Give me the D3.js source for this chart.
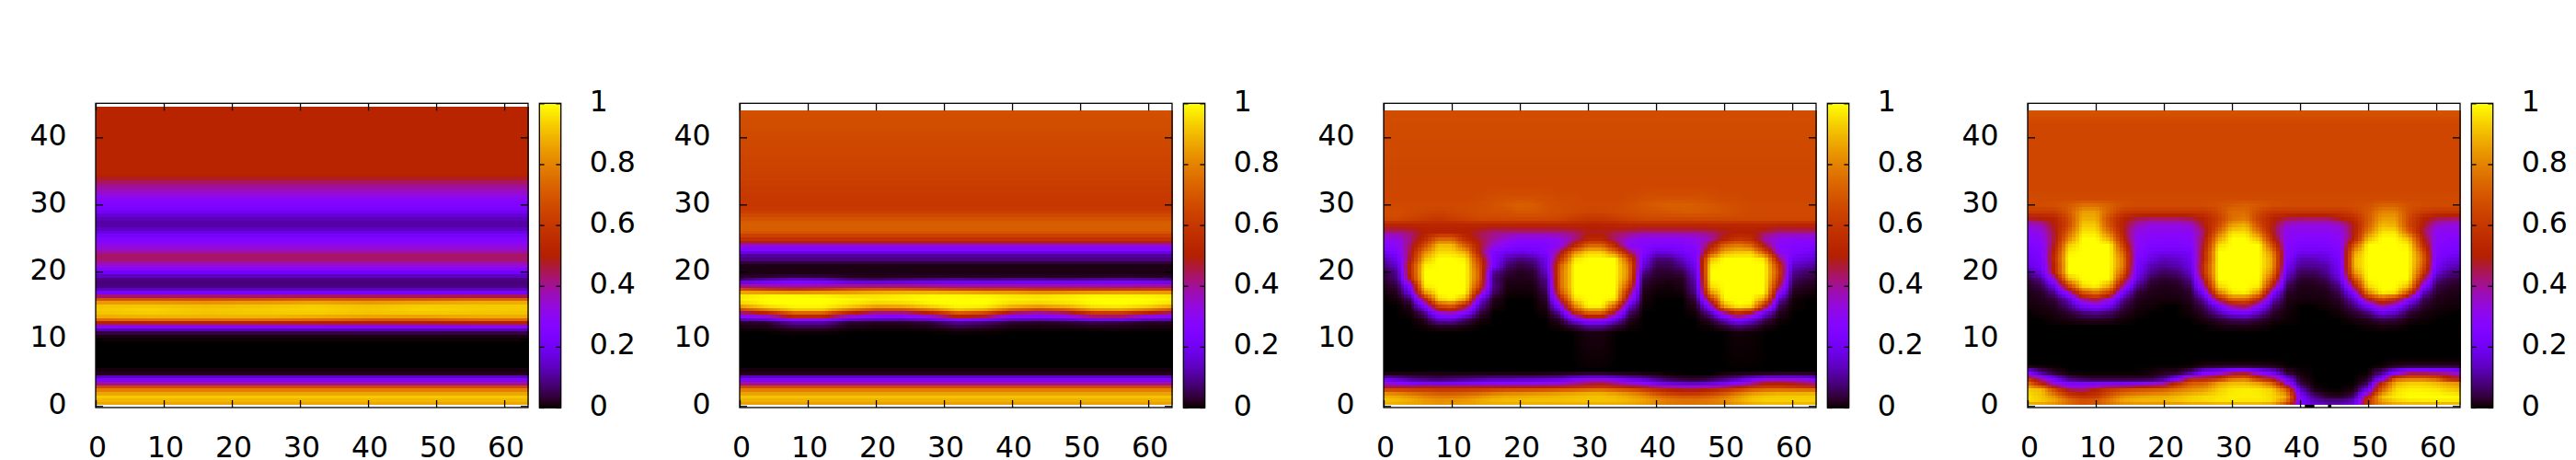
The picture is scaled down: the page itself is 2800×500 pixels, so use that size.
<!DOCTYPE html>
<html>
<head>
<meta charset="utf-8">
<script src="https://cdn.jsdelivr.net/npm/d3@7"></script>
<style>
html, body { margin: 0; background: #fff; }
svg { display: block; }
text { font-family: "DejaVu Sans", sans-serif; font-size: 31.5px; fill: #000; }
</style>
</head>
<body>
<div id="chart"></div>
<script>
"use strict";

const xTicks = [0, 10, 20, 30, 40, 50, 60];
const yTicks = [0, 10, 20, 30, 40];
const cbTicks = [0, 0.2, 0.4, 0.6, 0.8, 1];

const colsWide = [0, 8, 16, 24, 32, 40, 48, 56, 64];
const colsMid = [0, 4, 8, 12, 16, 20, 24, 28, 32, 36, 40, 44, 48, 52, 56, 60, 64];
const colsFine = [0, 2, 4, 6, 8, 10, 12, 14, 16, 18, 20, 22, 24, 26, 28, 30, 32, 34, 36, 38, 40, 42, 44, 46, 48, 50, 52, 54, 56, 58, 60, 62, 64];

// values in percent of the colour range, a row of one value is flat across x
const rows1 = [0.2, 0.7, 1.2, 1.7, 2.2, 2.7, 3.2, 3.7, 4.2, 4.7, 5.2, 5.7, 9.7, 10.2, 10.7, 11.2, 11.7, 12.2, 12.7, 13.2, 13.7, 14.2, 14.7, 15.2, 15.7, 16.2, 16.7, 17.2, 17.7, 18.2, 18.7, 19.2, 19.7, 20.2, 20.7, 21.2, 21.7, 22.2, 22.7, 23.2, 23.7, 24.2, 24.7, 25.2, 25.7, 26.2, 26.7, 27.2, 27.7, 28.2, 28.7, 29.2, 29.7, 30.2, 30.7, 31.2, 31.7, 32.2, 32.7, 33.2, 33.7, 34.2, 34.7, 35.2, 44.6];
const values1 = [
  [86], [87], [93], [92], [80], [78], [52], [25], [23], [2], [1.5], [0], [0], [1], [1.5], [8], [18], [38],
  [66, 68, 68, 68, 66, 62, 62, 66, 66],
  [85, 87, 87, 87, 85, 82, 82, 85, 85],
  [91, 92, 91, 92, 92, 91, 91, 91, 91],
  [92, 94, 92, 93, 94, 92, 94, 93, 92],
  [93, 94, 92, 93, 94, 92, 94, 93, 93],
  [90, 90, 89, 90, 92, 90, 92, 92, 92],
  [78, 78, 76, 78, 80, 78, 80, 83, 83],
  [58, 58, 58, 58, 60, 60, 60, 62, 62],
  [25], [18], [9], [8], [8], [10], [18], [25], [30], [37], [42], [44], [43], [37], [33], [30], [27], [24], [20], [15], [12], [11], [12], [14], [18], [22], [25], [26], [28], [31], [34], [37], [40], [42], [46], [50], [52], [52], [52]
];

const rows2 = [0.2, 0.7, 1.2, 1.7, 2.2, 2.7, 3.2, 3.7, 4.2, 4.7, 5.2, 5.7, 10.7, 11.2, 11.7, 12.2, 12.7, 13.2, 13.7, 14.2, 14.7, 15.2, 15.7, 16.2, 16.7, 17.2, 17.7, 18.2, 18.7, 19.2, 19.7, 21.2, 21.7, 22.2, 22.7, 23.2, 23.7, 24.2, 24.7, 25.2, 25.7, 26.2, 26.7, 27.2, 27.7, 28.2, 28.7, 29.2, 30, 32, 34, 36, 40, 44];
const values2 = [
  [85], [86], [92], [91], [80], [78], [52], [25], [23], [2], [1.5], [0], [0],
  [0, 0, 0.6, 0.6, 0, 0, 0, 0, 0.4, 0.3, 0, 0, 0, 0, 0, 0, 0],
  [0.5, 1, 3, 3, 1, 0.5, 0.5, 1, 3, 2, 0.5, 0.5, 0.5, 1, 1, 0.5, 0.5],
  [1.5, 2, 8, 8, 2, 1.5, 1.5, 2.5, 7, 5, 2, 1.5, 2, 3, 2.5, 1.5, 1.5],
  [3, 4, 14, 14, 4, 3, 3, 5, 12, 9, 4, 3, 4, 6, 5, 3, 3],
  [25, 30, 46, 46, 30, 25, 25, 30, 44, 40, 26, 25, 28, 38, 38, 28, 25],
  [30, 40, 62, 62, 42, 30, 30, 40, 60, 55, 32, 28, 34, 50, 50, 38, 30],
  [55, 70, 88, 88, 68, 55, 55, 66, 86, 80, 60, 52, 58, 76, 78, 68, 55],
  [78, 92, 98, 98, 90, 80, 82, 90, 98, 96, 84, 78, 84, 94, 95, 90, 80],
  [92, 99, 100, 100, 97, 92, 93, 98, 100, 100, 94, 92, 95, 99, 100, 98, 94],
  [97, 100, 100, 100, 99, 97, 98, 100, 100, 100, 98, 97, 98, 100, 100, 100, 98],
  [98, 100, 100, 100, 99, 98, 99, 100, 100, 100, 98, 97, 98, 100, 100, 100, 98],
  [95, 98, 98, 97, 93, 94, 96, 98, 98, 97, 95, 94, 96, 97, 97, 96, 95],
  [76, 70, 66, 70, 76, 80, 80, 78, 75, 72, 72, 68, 68, 70, 72, 72, 72],
  [55, 48, 45, 48, 55, 56, 56, 54, 50, 50, 50, 48, 48, 48, 48, 50, 52],
  [26, 28, 30, 28, 25, 25, 25, 25, 26, 26, 26, 28, 28, 28, 28, 28, 26],
  [8, 15, 20, 18, 10, 8, 10, 12, 14, 12, 14, 14, 12, 14, 15, 14, 12],
  [3, 4, 6, 5, 3, 2, 3, 3, 3, 3, 3, 3, 3, 3, 4, 3, 3],
  [1.2], [1.2], [7], [10], [11], [25], [26], [42], [55], [60], [67], [72], [72], [72], [70], [67], [64], [61], [60], [61], [63], [64], [66], [68]
];

const rows3 = [0.2, 1.15, 2.15, 2.9, 3.65, 4.7, 5.4, 11, 12, 13, 14, 15, 16, 17, 18, 19, 20, 21, 22, 23, 24, 25, 26, 27, 28, 29, 30, 31, 33, 44];
const values3 = [
  [88, 87, 86, 85, 83, 84, 85, 86, 87, 87, 87, 87, 87, 87, 87, 87, 87, 87, 86, 84, 80, 77, 76, 76, 77, 79, 83, 86, 88, 88, 88, 88, 88],
  [92, 91, 88, 84, 82, 82, 84, 87, 90, 91, 91, 92, 92, 92, 93, 93, 93, 92, 90, 87, 82, 78, 76, 76, 78, 82, 88, 93, 95, 95, 95, 95, 95],
  [80, 77, 74, 71, 68, 68, 70, 72, 76, 79, 80, 81, 82, 84, 85, 87, 87, 84, 80, 74, 65, 58, 55, 55, 60, 66, 75, 82, 85, 87, 87, 87, 88],
  [47, 48, 48, 50, 50, 50, 50, 50, 50, 50, 50, 50, 52, 54, 56, 58, 60, 56, 52, 48, 44, 40, 38, 38, 40, 44, 50, 58, 62, 62, 60, 58, 55],
  [30, 22, 15, 12, 10, 12, 14, 17, 19, 20, 21, 22, 23, 25, 34, 40, 42, 36, 28, 23, 14, 8, 6, 5, 8, 13, 20, 32, 44, 46, 44, 40, 32],
  [1.5, 1.5, 1.5, 1.5, 1.5, 1.5, 1.5, 1.5, 1.5, 1.5, 1.5, 1.5, 2, 2.5, 3.5, 4, 4, 3, 2.5, 1.5, 1, 0.3, 0, 0, 0, 1, 2, 2.5, 3, 3.5, 3.5, 3.5, 3.5],
  [0],
  [0, 0, 0, 0, 0, 0, 0, 0, 0, 0, 0, 0, 0, 0, 0, 1, 1, 0, 0, 0, 0, 0, 0, 0, 0, 0, 0.5, 0.3, 0, 0, 0, 0, 0],
  [0, 0, 0, 0.3, 2, 2, 1, 0, 0, 0, 0, 0, 0, 0.5, 4, 10, 10, 4, 0.5, 0, 0, 0, 0, 0, 0.3, 3, 8, 5, 1, 0, 0, 0, 0],
  [0, 0, 0, 2, 15, 16, 7, 1, 0, 0, 0, 0, 0, 3, 22, 35, 35, 20, 2, 0, 0, 0, 0, 0, 3, 15, 30, 20, 6, 0.5, 0, 0, 0],
  [0, 0, 0.5, 8, 35, 40, 28, 5, 0, 0, 0, 0, 0.5, 12, 55, 75, 75, 45, 8, 0, 0, 0, 0, 0.5, 12, 42, 60, 50, 20, 2, 0, 0, 0],
  [0, 0, 2, 25, 65, 72, 50, 12, 1, 0, 0, 0, 1.5, 30, 80, 100, 100, 72, 18, 0.3, 0, 0, 0, 2, 30, 88, 100, 97, 55, 6, 0.3, 0, 0],
  [0, 0.5, 7, 50, 95, 100, 88, 22, 2, 0, 0, 0, 3, 50, 96, 100, 100, 98, 38, 1, 0, 0, 0, 5, 58, 100, 100, 100, 86, 15, 0.5, 0, 0],
  [0.5, 2, 20, 85, 100, 100, 100, 48, 7, 0.5, 0.3, 0.5, 5, 68, 100, 100, 100, 100, 52, 1.5, 0.3, 0.2, 0.5, 10, 85, 100, 100, 100, 100, 32, 2, 0.8, 0.5],
  [1.5, 4, 30, 98, 100, 100, 100, 65, 10, 1, 1, 1, 8, 75, 100, 100, 100, 100, 68, 3, 0.8, 0.5, 1.5, 12, 96, 100, 100, 100, 100, 50, 4, 2, 1.5],
  [3, 8, 55, 100, 100, 100, 100, 72, 8, 2, 1.5, 2, 10, 75, 100, 100, 100, 100, 78, 5, 2, 1.5, 2, 15, 100, 100, 100, 100, 100, 60, 7, 4, 3],
  [4, 10, 58, 100, 100, 100, 100, 72, 12, 4, 2, 3, 15, 75, 100, 100, 100, 100, 80, 10, 3, 3, 5, 18, 100, 100, 100, 100, 100, 65, 10, 7, 6],
  [8, 15, 58, 98, 100, 100, 100, 68, 25, 8, 4, 6, 18, 72, 100, 100, 100, 100, 78, 18, 5, 5, 10, 22, 98, 100, 100, 100, 100, 60, 15, 12, 10],
  [12, 20, 50, 90, 100, 100, 98, 62, 25, 12, 8, 10, 20, 58, 96, 100, 100, 100, 68, 22, 8, 8, 15, 25, 90, 100, 100, 100, 96, 45, 20, 17, 15],
  [20, 25, 48, 80, 95, 95, 88, 50, 25, 20, 18, 20, 25, 45, 80, 93, 93, 76, 46, 27, 17, 18, 22, 25, 62, 88, 92, 92, 68, 30, 25, 22, 20],
  [26, 30, 44, 65, 90, 90, 70, 50, 35, 28, 25, 25, 26, 30, 52, 72, 72, 52, 28, 27, 25, 25, 26, 30, 48, 72, 78, 72, 46, 28, 27, 26, 25],
  [32, 32, 42, 54, 72, 72, 55, 46, 40, 34, 30, 30, 30, 33, 40, 52, 52, 42, 35, 30, 30, 30, 30, 32, 38, 50, 58, 55, 38, 32, 30, 30, 30],
  [42, 42, 44, 50, 50, 50, 50, 46, 42, 42, 42, 42, 42, 42, 44, 48, 48, 46, 44, 42, 42, 42, 42, 42, 44, 47, 50, 50, 46, 42, 42, 42, 42],
  [53, 53, 53, 53, 53, 53, 53, 53, 53, 53, 53, 53, 53, 53, 53, 52, 52, 53, 54, 54, 54, 54, 54, 54, 54, 54, 54, 54, 54, 53, 53, 53, 53],
  [66, 66, 64, 62, 60, 62, 64, 66, 66, 66, 66, 66, 66, 65, 62, 60, 60, 62, 64, 66, 66, 66, 66, 66, 66, 66, 66, 66, 66, 66, 66, 66, 66],
  [67, 67, 66, 65, 64, 65, 66, 67, 68, 68, 70, 70, 68, 67, 66, 65, 65, 66, 67, 68, 69, 70, 71, 71, 70, 69, 67, 66, 66, 66, 66, 66, 66],
  [66, 66, 66, 66, 66, 66, 66, 67, 68, 70, 72, 71, 68, 67, 66, 66, 66, 66, 67, 69, 71, 72, 72, 71, 70, 68, 67, 66, 66, 66, 66, 66, 66],
  [65, 65, 65, 65, 65, 65, 65, 66, 67, 68, 68, 68, 67, 66, 66, 65, 65, 65, 66, 67, 68, 68, 68, 68, 67, 66, 66, 65, 65, 65, 65, 65, 65],
  [65], [67]
];

const rows4 = [0.2, 0.75, 1.5, 2.5, 3.5, 4, 5, 6, 7, 11, 12, 13, 14, 15, 16, 17, 18, 19, 20, 21, 22, 23, 24, 25, 26, 27, 28, 29, 30, 31, 33, 42, 44];
const values4 = [
  [82, 82, 80, 72, 66, 68, 74, 78, 80, 80, 80, 80, 82, 82, 84, 84, 84, 84, 82, 60, 25, 16, 12, 12, 16, 60, 80, 84, 84, 84, 84, 84, 84],
  [96, 93, 88, 78, 70, 72, 80, 88, 90, 90, 90, 92, 94, 95, 97, 97, 97, 97, 95, 78, 25, 14, 10, 10, 16, 62, 85, 93, 96, 97, 97, 97, 97],
  [96, 92, 82, 65, 58, 60, 72, 82, 85, 87, 88, 90, 93, 95, 96, 98, 98, 98, 95, 88, 25, 8, 2, 1.5, 6, 50, 92, 98, 100, 100, 100, 100, 99],
  [93, 90, 65, 45, 42, 50, 60, 65, 68, 70, 72, 78, 82, 85, 93, 97, 98, 97, 93, 72, 14, 1, 0, 0, 1, 20, 72, 95, 98, 98, 97, 93, 90],
  [75, 50, 30, 22, 22, 22, 22, 20, 22, 28, 35, 55, 70, 72, 85, 90, 90, 85, 72, 32, 4, 0, 0, 0, 0, 5, 55, 88, 93, 93, 90, 85, 82],
  [60, 40, 22, 8, 4, 3, 3, 3, 3, 3, 8, 25, 55, 55, 62, 78, 80, 62, 50, 22, 2, 0, 0, 0, 0, 2, 25, 75, 80, 80, 75, 55, 50],
  [25, 8, 2, 0, 0, 0, 0, 0, 0, 0.5, 2, 2, 8, 25, 30, 42, 45, 30, 20, 3, 0.5, 0, 0, 0, 0, 0, 8, 25, 42, 42, 40, 38, 30],
  [0, 0, 0, 0, 0, 0, 0, 0, 0, 0, 0, 0, 0, 1, 1.2, 1.2, 1.2, 1.2, 1, 0, 0, 0, 0, 0, 0, 0, 0, 1.5, 2, 2, 2, 2, 2],
  [0], [0],
  [0, 0, 0, 0, 0, 0, 0, 0, 0, 0, 0, 0, 0, 0, 0.7, 1.2, 1.2, 0.7, 0, 0, 0, 0, 0, 0, 0, 0.3, 0.8, 0.6, 0, 0, 0, 0, 0],
  [0, 0, 0.5, 1, 2, 2.5, 2, 0.5, 0, 0, 0, 0, 0, 1, 3, 6, 7, 4, 1, 0.3, 0, 0, 0, 0, 0.8, 2, 5, 4, 1, 0.3, 0, 0, 0],
  [0, 0.5, 1, 3, 8, 10, 7, 2, 0.5, 0, 0, 0, 0.5, 3, 12, 22, 24, 14, 3, 0.5, 0, 0, 0, 0.5, 3, 8, 20, 15, 4, 1, 0.3, 0, 0],
  [0.5, 1, 2, 8, 22, 28, 20, 5, 1, 0.5, 0, 0, 1, 6, 22, 42, 48, 30, 7, 1, 0, 0, 0.5, 1.5, 8, 22, 40, 30, 12, 3, 1, 0.5, 0.5],
  [1.2, 1.5, 4, 14, 42, 50, 35, 10, 2, 1, 0.8, 0.8, 2, 12, 50, 75, 75, 55, 15, 1.5, 0.8, 0.8, 1, 3, 15, 50, 68, 58, 30, 6, 1.5, 1, 1],
  [1.5, 2.5, 10, 35, 70, 80, 65, 22, 4, 1.5, 1.2, 1.5, 3, 25, 80, 98, 100, 85, 28, 3, 1.2, 1.2, 1.5, 6, 28, 82, 100, 98, 68, 15, 3, 1.5, 1.5],
  [2, 5, 20, 65, 96, 100, 88, 40, 10, 2.5, 1.5, 2, 6, 40, 95, 100, 100, 98, 52, 6, 1.5, 1.5, 3, 10, 50, 96, 100, 100, 92, 32, 5, 2.5, 2],
  [4, 10, 38, 90, 100, 100, 100, 58, 18, 5, 3, 4, 10, 52, 100, 100, 100, 100, 68, 12, 3, 3, 6, 18, 68, 100, 100, 100, 100, 50, 10, 5, 4],
  [10, 18, 55, 100, 100, 100, 100, 72, 22, 10, 6, 8, 15, 60, 100, 100, 100, 100, 80, 18, 6, 6, 10, 22, 85, 100, 100, 100, 100, 65, 18, 9, 8],
  [18, 22, 55, 100, 100, 100, 100, 78, 24, 13, 10, 12, 18, 60, 100, 100, 100, 100, 85, 22, 10, 10, 12, 23, 90, 100, 100, 100, 100, 72, 22, 14, 13],
  [20, 23, 58, 100, 100, 100, 100, 78, 26, 18, 13, 15, 20, 55, 100, 100, 100, 100, 85, 26, 13, 13, 17, 24, 90, 100, 100, 100, 100, 75, 24, 18, 17],
  [22, 25, 55, 98, 100, 100, 100, 72, 28, 22, 20, 20, 22, 55, 100, 100, 100, 100, 80, 28, 20, 20, 20, 26, 85, 100, 100, 100, 100, 70, 26, 23, 22],
  [25, 27, 50, 92, 100, 100, 100, 62, 30, 25, 25, 25, 26, 50, 95, 100, 100, 100, 66, 28, 24, 24, 25, 28, 70, 100, 100, 100, 98, 58, 28, 25, 25],
  [27, 30, 48, 80, 100, 100, 88, 54, 30, 28, 27, 27, 28, 48, 85, 100, 100, 90, 54, 30, 27, 27, 27, 30, 52, 90, 100, 100, 90, 52, 30, 27, 27],
  [30, 33, 48, 72, 96, 96, 76, 50, 32, 30, 30, 30, 30, 44, 74, 95, 95, 76, 48, 30, 30, 30, 30, 32, 50, 78, 96, 96, 72, 46, 30, 30, 30],
  [33, 38, 50, 65, 92, 92, 68, 50, 38, 33, 33, 33, 35, 50, 65, 85, 88, 66, 50, 35, 33, 33, 33, 36, 50, 72, 90, 88, 65, 50, 36, 33, 33],
  [48, 50, 52, 66, 88, 88, 66, 52, 46, 44, 44, 44, 46, 52, 62, 75, 78, 62, 52, 46, 44, 44, 44, 50, 56, 70, 85, 85, 66, 52, 46, 44, 44],
  [62, 62, 62, 70, 85, 85, 72, 62, 60, 60, 60, 60, 60, 60, 66, 75, 75, 66, 60, 60, 60, 60, 60, 60, 64, 70, 80, 80, 68, 62, 60, 60, 60],
  [67, 67, 68, 70, 75, 75, 72, 68, 67, 67, 67, 67, 67, 67, 68, 70, 72, 70, 68, 67, 67, 67, 67, 67, 67, 68, 72, 72, 68, 67, 67, 67, 67],
  [66], [65], [65], [69]
];

// short dark stretches under the last panel
const gaps4 = [[40.7, 42.1], [44.1, 44.6]];

const panels = [
  { cols: colsWide, rows: rows1, values: values1, top: 44.56, gaps: [] },
  { cols: colsMid, rows: rows2, values: values2, top: 44, gaps: [] },
  { cols: colsFine, rows: rows3, values: values3, top: 44, gaps: [] },
  { cols: colsFine, rows: rows4, values: values4, top: 44, gaps: gaps4 }
];

const panelStep = 700;
const plot = { left: 104, right: 574, top: 112.3, bottom: 443 };
const bar = { left: 586.3, right: 609.7 };
const cell = 0.5;
const bottomEdge = 0.18;

const x = d3.scaleLinear().domain([0, 63.5]).range([plot.left, plot.right]);
const y = d3.scaleLinear().domain([-0.233, 45.07]).range([plot.bottom, plot.top]);
const cb = d3.scaleLinear().domain([0, 1]).range([plot.bottom, plot.top]);

// gnuplot's default pm3d palette, rgbformulae 7,5,15
function palette(v) {
  const t = Math.max(0, Math.min(1, v));
  return d3.rgb(255 * Math.sqrt(t), 255 * t * t * t, 255 * Math.max(0, Math.sin(2 * Math.PI * t))) + "";
}

function lerpIndex(list, v) {
  const i = Math.max(0, Math.min(list.length - 2, d3.bisectRight(list, v) - 1));
  const t = Math.max(0, Math.min(1, (v - list[i]) / (list[i + 1] - list[i])));
  return [i, t];
}

function rowValue(row, cols, xv) {
  if (row.length === 1) return row[0];
  const [i, t] = lerpIndex(cols, xv);
  return row[i] + (row[i + 1] - row[i]) * t;
}

// same smoothing as pm3d interpolate: half unit blocks between the read values
function blocks(p) {
  const out = [];
  for (let yv = bottomEdge; yv < p.top - 0.01; yv += cell) {
    const y1 = Math.min(yv + cell, p.top);
    const [j, tj] = lerpIndex(p.rows, (yv + y1) / 2);
    for (let xv = 0; xv < 63.5; xv += cell) {
      const a = rowValue(p.values[j], p.cols, xv + cell / 2);
      const b = rowValue(p.values[j + 1], p.cols, xv + cell / 2);
      out.push({ x0: xv, x1: xv + cell, y0: yv, y1: y1, v: (a + (b - a) * tj) / 100 });
    }
  }
  return out;
}

const svg = d3.select("#chart").append("svg").attr("width", 2800).attr("height", 500);

function styleAxis(g) {
  g.selectAll("line").attr("stroke", "#000").attr("stroke-width", 1.3);
  g.select(".domain").remove();
}

panels.forEach((p, n) => {
  const g = svg.append("g").attr("transform", `translate(${n * panelStep},0)`);

  g.append("g").selectAll("rect").data(blocks(p)).join("rect")
    .attr("x", d => x(d.x0))
    .attr("y", d => y(d.y1))
    .attr("width", d => x(d.x1) - x(d.x0) + 0.5)
    .attr("height", d => y(d.y0) - y(d.y1) + 0.5)
    .attr("fill", d => palette(d.v))
    .attr("shape-rendering", "crispEdges");

  g.append("g").selectAll("rect").data(p.gaps).join("rect")
    .attr("x", d => x(d[0]))
    .attr("width", d => x(d[1]) - x(d[0]))
    .attr("y", y(bottomEdge))
    .attr("height", plot.bottom - y(bottomEdge))
    .attr("fill", "#000");

  const bottom = g.append("g").attr("transform", `translate(0,${plot.bottom})`)
    .call(d3.axisBottom(x).tickValues(xTicks).tickSize(-8).tickPadding(31.6).tickFormat(d3.format("d")));
  bottom.call(styleAxis);
  bottom.selectAll("text").attr("dx", 1.5);

  const topAxis = g.append("g").attr("transform", `translate(0,${plot.top})`)
    .call(d3.axisTop(x).tickValues(xTicks).tickSize(-8).tickFormat(""));
  topAxis.call(styleAxis);

  const left = g.append("g").attr("transform", `translate(${plot.left},0)`)
    .call(d3.axisLeft(y).tickValues(yTicks).tickSize(-8).tickPadding(31.5).tickFormat(d3.format("d")));
  left.call(styleAxis);
  left.selectAll("text").attr("dy", 8);

  const right = g.append("g").attr("transform", `translate(${plot.right},0)`)
    .call(d3.axisRight(y).tickValues(yTicks).tickSize(-8).tickFormat(""));
  right.call(styleAxis);

  g.append("rect")
    .attr("x", plot.left).attr("y", plot.top)
    .attr("width", plot.right - plot.left).attr("height", plot.bottom - plot.top)
    .attr("fill", "none").attr("stroke", "#000").attr("stroke-width", 1.3);

  // colour bar
  g.append("g").selectAll("rect").data(d3.range(0, 330)).join("rect")
    .attr("x", bar.left)
    .attr("width", bar.right - bar.left)
    .attr("y", d => cb((d + 1) / 330))
    .attr("height", d => cb(d / 330) - cb((d + 1) / 330) + 0.5)
    .attr("fill", d => palette((d + 0.5) / 330))
    .attr("shape-rendering", "crispEdges");

  const cbRight = g.append("g").attr("transform", `translate(${bar.right},0)`)
    .call(d3.axisRight(cb).tickValues(cbTicks).tickSize(-5.3).tickPadding(31).tickFormat(String));
  cbRight.call(styleAxis);
  cbRight.selectAll("text").attr("dy", 8);

  const cbLeft = g.append("g").attr("transform", `translate(${bar.left},0)`)
    .call(d3.axisLeft(cb).tickValues(cbTicks).tickSize(-5.3).tickFormat(""));
  cbLeft.call(styleAxis);

  g.append("rect")
    .attr("x", bar.left).attr("y", plot.top)
    .attr("width", bar.right - bar.left).attr("height", plot.bottom - plot.top)
    .attr("fill", "none").attr("stroke", "#000").attr("stroke-width", 1.3);
});
</script>
</body>
</html>
